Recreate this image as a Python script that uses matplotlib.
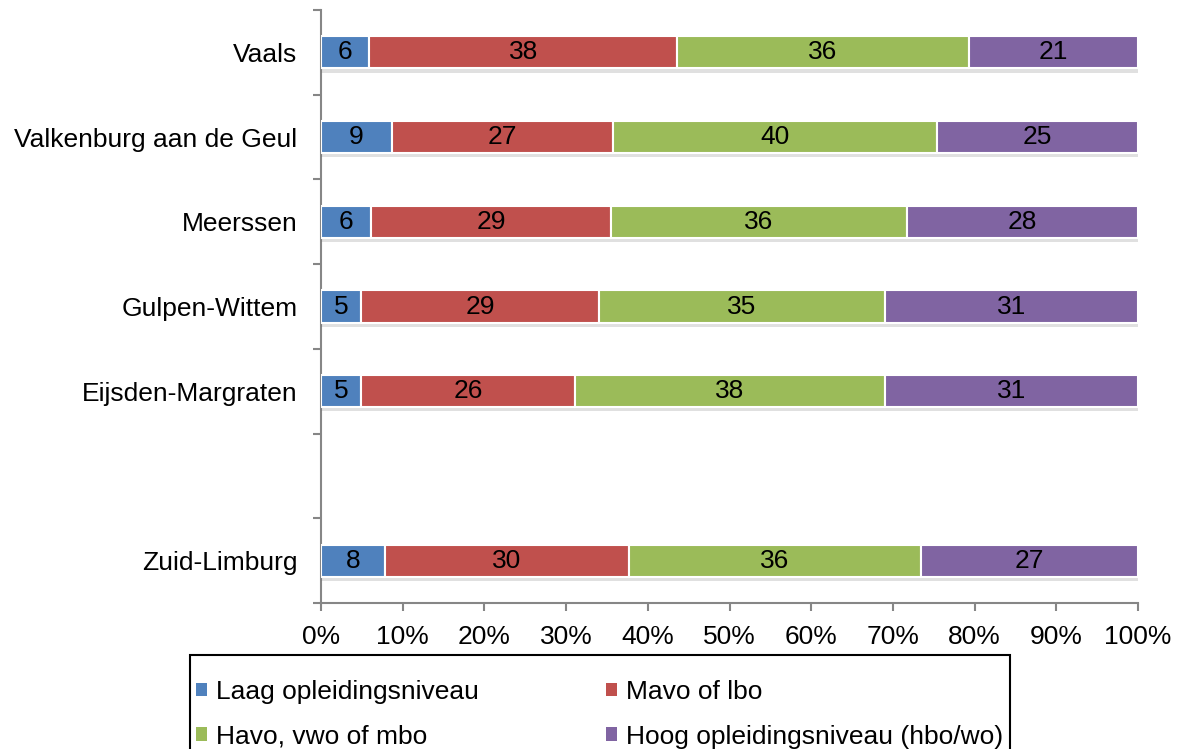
import numpy as np
import matplotlib
matplotlib.use("Agg")
import matplotlib.pyplot as plt
import matplotlib.patheffects as pe
from matplotlib.patches import Patch, Rectangle

plt.rcParams['font.family'] = ['Liberation Sans', 'DejaVu Sans']

# gemeenten, van boven naar beneden (Zuid-Limburg staat los onderaan)
gemeenten = ["Vaals", "Valkenburg aan de Geul", "Meerssen", "Gulpen-Wittem",
             "Eijsden-Margraten", "Zuid-Limburg"]

# aandelen in procenten
laag = [5.9, 8.7, 6.1, 4.9, 4.9, 7.8]
mavo = [37.7, 27.0, 29.4, 29.1, 26.2, 29.9]
havo = [35.7, 39.7, 36.2, 35.0, 37.9, 35.7]
hoog = [20.7, 24.6, 28.3, 31.0, 31.0, 26.6]

# getoonde labels in de balken
labels_laag = [6, 9, 6, 5, 5, 8]
labels_mavo = [38, 27, 29, 29, 26, 30]
labels_havo = [36, 40, 36, 35, 38, 36]
labels_hoog = [21, 25, 28, 31, 31, 27]

reeksen = ["Laag opleidingsniveau", "Mavo of lbo", "Havo, vwo of mbo",
           "Hoog opleidingsniveau (hbo/wo)"]
kleuren = ["#4F81BD", "#C0504D", "#9BBB59", "#8064A2"]

fs = 19
W, H = 1180, 749

fig = plt.figure(figsize=(W / 100, H / 100), dpi=100)
ax = fig.add_axes([321 / W, 1 - 603 / H, (1138 - 321) / W, (603 - 10) / H])

# lege plek tussen Eijsden-Margraten en Zuid-Limburg
ypos = np.array([6, 5, 4, 3, 2, 0])

waarden = [laag, mavo, havo, hoog]
labels = [labels_laag, labels_mavo, labels_havo, labels_hoog]
links = np.zeros(len(gemeenten))
schaduw = [pe.SimplePatchShadow(offset=(0, -3), shadow_rgbFace="0.45", alpha=0.22), pe.Normal()]
for vals, labs, kleur, naam in zip(waarden, labels, kleuren, reeksen):
    vals = np.array(vals)
    bars = ax.barh(ypos, vals, left=links, height=0.38, color=kleur,
                   edgecolor="white", linewidth=1.5, label=naam, zorder=3)
    for b in bars:
        b.set_path_effects(schaduw)
    for y, l, v, t in zip(ypos, links, vals, labs):
        ax.text(l + v / 2, y, str(t), ha="center", va="center", fontsize=fs,
                color="black", zorder=4)
    links = links + vals

ax.set_xlim(0, 100)
ax.set_ylim(-0.5, 6.5)
ax.set_xticks(np.arange(0, 101, 10))
ax.set_xticklabels([f"{v}%" for v in range(0, 101, 10)])
ax.set_yticks(ypos)
ax.set_yticklabels(gemeenten)
ax.set_yticks(np.arange(-0.5, 6.6, 1), minor=True)

for s in ["top", "right"]:
    ax.spines[s].set_visible(False)
for s in ["left", "bottom"]:
    ax.spines[s].set_color("#868686")
    ax.spines[s].set_linewidth(1.5)

ax.tick_params(axis="y", which="major", length=0, pad=17, labelsize=fs)
ax.tick_params(axis="y", which="minor", length=6, width=1.5, color="#868686")
ax.tick_params(axis="x", length=6, width=1.5, color="#868686", pad=10, labelsize=fs)

# kader van de legenda loopt onder de rand van de figuur door
fig.patches.append(Rectangle((190 / W, 1 - 770 / H), 820 / W, 115 / H, transform=fig.transFigure,
                             facecolor="none", edgecolor="black", linewidth=1.5))

# legenda rij voor rij: Laag, Mavo / Havo, Hoog
volgorde = [0, 2, 1, 3]
handles = [Patch(facecolor=kleuren[i], edgecolor="none") for i in volgorde]
namen = [reeksen[i] for i in volgorde]
fig.legend(handles, namen, loc="upper left", bbox_to_anchor=(196 / W, 1 - 680 / H),
           ncol=2, fontsize=fs, frameon=False,
           handlelength=0.42, handleheight=0.42, handletextpad=0.35,
           columnspacing=4.8, labelspacing=0.78, borderpad=0, borderaxespad=0)

fig.savefig("out.png", dpi=100)
